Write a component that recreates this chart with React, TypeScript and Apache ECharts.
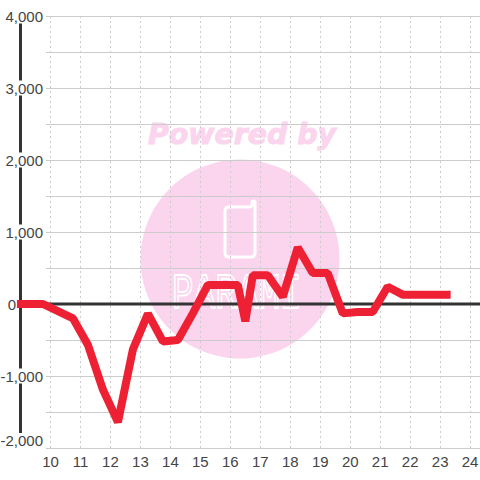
import React, { useEffect, useRef } from "react";
import * as echarts from "echarts";

const hours = [8.88, 9.75, 10.75, 11.25, 11.75, 12.25, 12.75, 13.25, 13.75, 14.25, 14.75, 15.25, 15.75, 16.25, 16.5, 16.75, 17.25, 17.75, 18.25, 18.75, 19.25, 19.75, 20.25, 20.75, 21.25, 21.75, 22.25, 22.75, 23.35];
const values = [0, 0, -200, -570, -1190, -1640, -630, -135, -520, -500, -130, 265, 265, 265, -240, 400, 400, 100, 785, 430, 430, -130, -110, -110, 240, 130, 130, 130, 130];
const baseline = [[9.85, 0], [24.33, 0]];
const xRange = [9.85, 24.33];
const lineXRange = [8.88, 24.33];
const yRange = [-2000, 4000];

const FONT = "'Liberation Sans', Arial, sans-serif";
const PINK = "#fbd5ed";
const GRID = "#cccccc";
const PHONE = "M248 207 L229 207 Q225 207 225 211 L225 253 Q225 257 229 257 L251 257 Q255 257 255 253 L255 203 Q255 201 253.5 201 Q252 201 252 203 L252 205 Q252 207 248 207 Z";

export default function App() {
  const ref = useRef<HTMLDivElement>(null);
  useEffect(() => {
    document.body.style.margin = "0";
    const chart = echarts.init(ref.current!, null, { renderer: "svg" });
    echarts.graphic.registerShape("phoneLogo", echarts.graphic.extendPath(PHONE, {}));
    chart.setOption({
      animation: false,
      backgroundColor: "#ffffff",
      grid: [
        { left: 46, right: 0, top: 16, bottom: 32, outerBoundsMode: "none" },
        { left: 16.93, right: 0, top: 16, bottom: 32, outerBoundsMode: "none" },
        { left: 46, right: 0, top: 16, bottom: 42, outerBoundsMode: "none" },
      ],
      graphic: [
        { type: "circle", z: -10, shape: { cx: 240, cy: 259, r: 99.5 }, style: { fill: PINK } },
        { type: "text", z: -10, x: 148, y: 120, style: { text: "Powered by", fontFamily: "'DejaVu Sans'", fontWeight: "bold", fontStyle: "italic", fontSize: 28.4, fill: PINK, stroke: PINK, lineWidth: 1 } },
        { type: "phoneLogo", z: -9, x: 0, y: 0, style: { fill: "none", stroke: "#ffffff", lineWidth: 3 } },
        { type: "text", z: -9, x: 172, y: 270, scaleY: 1.38, style: { text: "PARAMI", fontFamily: "'Liberation Mono'", fontSize: 36, fill: "transparent", stroke: "#ffffff", lineWidth: 1.3 } },
      ],
      xAxis: [
        {
          type: "value",
          gridIndex: 0,
          min: xRange[0],
          max: xRange[1],
          splitNumber: 14,
          axisLine: { show: false },
          axisTick: { show: false },
          axisLabel: { showMinLabel: false, showMaxLabel: false, margin: 6, fontFamily: FONT, fontSize: 15, color: "#444444" },
          splitLine: { show: true, showMinLine: false, showMaxLine: false, lineStyle: { color: GRID, type: [2, 3], width: 1 } },
        },
        { type: "value", gridIndex: 1, min: lineXRange[0], max: lineXRange[1], show: false },
        { type: "value", gridIndex: 2, min: xRange[0], max: xRange[1], show: false },
      ],
      yAxis: [
        {
          type: "value",
          gridIndex: 0,
          min: yRange[0],
          max: yRange[1],
          interval: 1000,
          z: 1,
          axisLine: { show: false },
          axisTick: { show: false },
          minorTick: { show: false, splitNumber: 2 },
          minorSplitLine: { show: true, lineStyle: { color: GRID, width: 1 } },
          splitLine: { show: true, lineStyle: { color: GRID, width: 1 } },
          axisLabel: {
            margin: 3,
            verticalAlignMinLabel: "bottom",
            formatter: (v: number) => (v === 0 ? "{z|0}" : `{a|${v.toLocaleString("en-US")}}`),
            rich: {
              a: { fontFamily: FONT, fontSize: 15, color: "#444444", backgroundColor: "#ffffff", lineHeight: 15 },
              z: { fontFamily: FONT, fontSize: 15, color: "#444444", padding: [0, 27, 0, 0] },
            },
          },
        },
        {
          type: "value",
          gridIndex: 2,
          min: yRange[0],
          max: yRange[1],
          offset: 25.5,
          position: "left",
          z: 0,
          axisLine: { show: true, lineStyle: { color: "#333333", width: 3 } },
          axisTick: { show: false },
          axisLabel: { show: false },
          splitLine: { show: false },
        },
        { type: "value", gridIndex: 1, min: yRange[0], max: yRange[1], show: false },
      ],
      series: [
        {
          name: "Baseline",
          type: "line",
          xAxisIndex: 0,
          yAxisIndex: 0,
          data: baseline,
          showSymbol: false,
          silent: true,
          z: 2,
          lineStyle: { color: "#333333", width: 3 },
        },
        {
          name: "Value",
          type: "line",
          xAxisIndex: 1,
          yAxisIndex: 2,
          data: hours.map((h, i) => [h, values[i]]),
          showSymbol: false,
          z: 3,
          lineStyle: { color: "#ee2033", width: 8, join: "bevel", cap: "butt" },
        },
      ],
    });
    return () => chart.dispose();
  }, []);
  return <div ref={ref} style={{ width: 480, height: 480 }} />;
}
